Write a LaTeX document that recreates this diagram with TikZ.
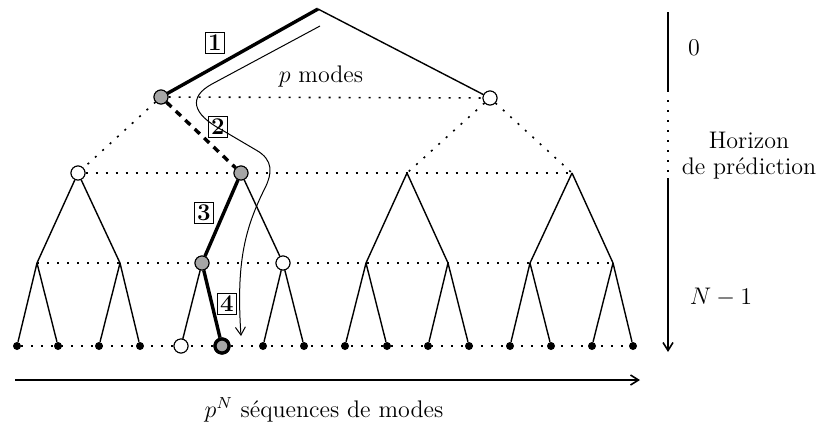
\documentclass[tikz,border=0pt]{standalone}
\usetikzlibrary{arrows.meta}
\begin{document}
\begin{tikzpicture}[x=0.5pt,y=-0.5pt,
  every node/.style={font=\fontsize{12}{14}\selectfont},
  edge/.style={line width=0.7pt},
  thickedge/.style={line width=1.7pt},
  dots/.style={line width=0.8pt,dash pattern=on 1pt off 4pt},
  thickdash/.style={line width=1.7pt,dash pattern=on 3.5pt off 3pt},
  opennode/.style={circle,draw,line width=0.5pt,fill=white,minimum size=7pt,inner sep=0pt},
  graynode/.style={circle,draw,line width=0.5pt,fill=black!35,minimum size=7pt,inner sep=0pt},
  leaf/.style={circle,fill=black,minimum size=4pt,inner sep=0pt},
  numbox/.style={draw,line width=0.5pt,inner sep=1.2pt,fill=white,font=\fontsize{12}{14}\selectfont\bfseries},
  arr/.style={line width=0.8pt,-{Straight Barb[length=4pt,width=5pt]}}
]
\useasboundingbox (0,0) rectangle (818,434);
% root and level 1
\coordinate (R) at (318,9);
\node[graynode] (A1) at (161,97) {};
\node[opennode] (A2) at (490,98) {};
% level 2
\node[opennode] (B1) at (78,173) {};
\node[graynode] (B2) at (241,173) {};
\coordinate (B3) at (407,173);
\coordinate (B4) at (572,173);
% level 3
\coordinate (C1) at (37,263);
\coordinate (C2) at (120,263);
\node[graynode] (C3) at (202,263) {};
\node[opennode] (C4) at (283,263) {};
\coordinate (C5) at (366,263);
\coordinate (C6) at (448,263);
\coordinate (C7) at (530,263);
\coordinate (C8) at (613,263);
% level 4
\foreach \i/\x in {1/17,2/58,3/99,4/140,7/263,8/304,9/345,10/387,11/428,12/469,13/510,14/551,15/592,16/633}
  \node[leaf] (D\i) at (\x,346) {};
\node[opennode] (D5) at (181,346) {};
\node[graynode,line width=1.6pt] (D6) at (222,346) {};

% dotted level lines
\draw[dots] (A1) -- (A2);
\draw[dots] (B1) -- (B4);
\draw[dots] (C1) -- (C8);
\draw[dots] (D1) -- (D16);
\draw[dots] (A1) -- (B1);
\draw[dots] (A2) -- (B3);
\draw[dots] (A2) -- (B4);

% solid edges
\draw[edge] (R) -- (A2);
\draw[thickedge] (R) -- (A1);
\draw[thickdash] (A1) -- (B2);
\draw[edge] (B1) -- (C1); \draw[edge] (B1) -- (C2);
\draw[thickedge] (B2) -- (C3); \draw[edge] (B2) -- (C4);
\draw[edge] (B3) -- (C5); \draw[edge] (B3) -- (C6);
\draw[edge] (B4) -- (C7); \draw[edge] (B4) -- (C8);
\draw[edge] (C1) -- (D1); \draw[edge] (C1) -- (D2);
\draw[edge] (C2) -- (D3); \draw[edge] (C2) -- (D4);
\draw[edge] (C3) -- (D5); \draw[thickedge] (C3) -- (D6);
\draw[edge] (C4) -- (D7); \draw[edge] (C4) -- (D8);
\draw[edge] (C5) -- (D9); \draw[edge] (C5) -- (D10);
\draw[edge] (C6) -- (D11); \draw[edge] (C6) -- (D12);
\draw[edge] (C7) -- (D13); \draw[edge] (C7) -- (D14);
\draw[edge] (C8) -- (D15); \draw[edge] (C8) -- (D16);

% redraw nodes on top
\node[graynode] at (A1) {};
\node[opennode] at (A2) {};
\node[opennode] at (B1) {};
\node[graynode] at (B2) {};
\node[graynode] at (C3) {};
\node[opennode] at (C4) {};
\node[opennode] at (D5) {};
\node[graynode,line width=1.6pt] at (D6) {};

% numbered boxes
\node[numbox] (n1) at (215,43) {1};
\node[numbox] (n2) at (218,127) {2};
\node[numbox] (n3) at (204,213) {3};
\node[numbox] (n4) at (227,304) {4};

\node (pm) at (321,77) {$p$ modes};

% curved path arrow
\coordinate (s0) at (320,26);
\coordinate (s1) at (241,336);
\draw[line width=0.5pt,-{Straight Barb[length=4pt,width=5pt]}] (s0) -- (212,84)
  .. controls (188,97) and (192,114) .. (222,130) -- (256,150)
  .. controls (274,160) and (272,174) .. (265,188)
  .. controls (245,228) and (236,262) .. (s1);

% right axis
\coordinate (v0) at (668,12);
\coordinate (v1) at (668,90);
\coordinate (v2) at (668,178);
\coordinate (v3) at (668,352);
\draw[edge] (v0) -- (v1);
\draw[dots] (v1) -- (v2);
\draw[arr] (v2) -- (v3);
\node (l0) at (694,48) {$0$};
\node[align=center] (hz) at (749,156) {Horizon\\[-1pt]de prédiction};
\node (lN) at (721,297) {$N-1$};

% bottom axis
\coordinate (h0) at (15,380);
\coordinate (h1) at (640,380);
\draw[arr] (h0) -- (h1);
\node (lp) at (324,410) {$p^N$ séquences de modes};
\end{tikzpicture}
\end{document}
